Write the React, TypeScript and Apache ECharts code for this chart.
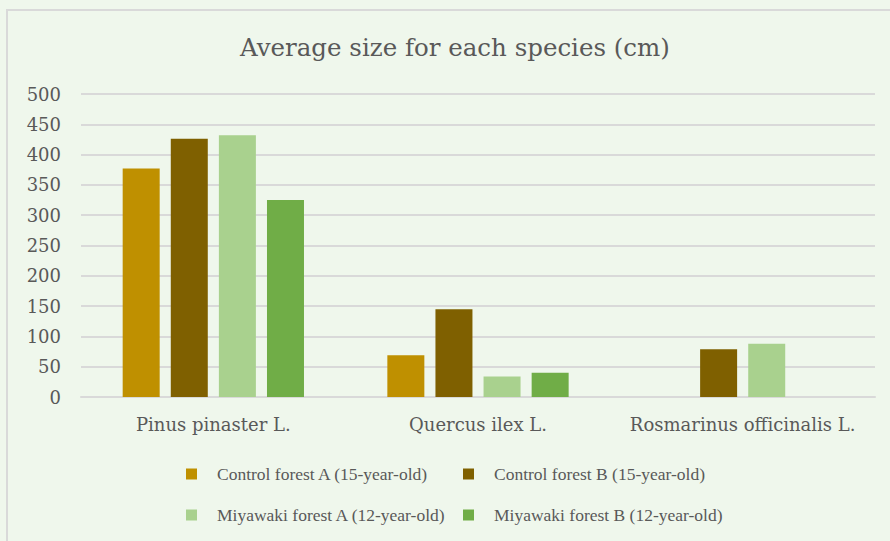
import React, { useEffect, useRef } from "react";
import * as echarts from "echarts";

const categories = ["Pinus pinaster L.", "Quercus ilex L.", "Rosmarinus officinalis L."];
const seriesNames = [
  "Control forest A (15-year-old)",
  "Control forest B (15-year-old)",
  "Miyawaki forest A (12-year-old)",
  "Miyawaki forest B (12-year-old)",
];
const controlA: (number | null)[] = [377, 69, null];
const controlB: (number | null)[] = [426, 145, 79];
const miyawakiA: (number | null)[] = [432, 34, 88];
const miyawakiB: (number | null)[] = [325, 40, null];
const seriesColors = ["#BF9000", "#7F6000", "#A9D18E", "#70AD47"];
const yTicks = { min: 0, max: 500, interval: 50 };

export default function App() {
  const ref = useRef<HTMLDivElement>(null);
  useEffect(() => {
    document.body.style.margin = "0";
    if (!ref.current) return;
    const chart = echarts.init(ref.current, undefined, { renderer: "svg" });
    const values = [controlA, controlB, miyawakiA, miyawakiB];
    const legendPos = [
      { left: 186, top: 465 },
      { left: 463, top: 465 },
      { left: 186, top: 506 },
      { left: 463, top: 506 },
    ];
    chart.setOption({
      animation: false,
      backgroundColor: "#EFF7EC",
      title: {
        text: "Average size for each species (cm)",
        left: 235,
        top: 30,
        textStyle: { fontFamily: "DejaVu Serif", fontSize: 24.5, fontWeight: "normal", color: "#595959" },
      },
      graphic: [
        {
          type: "rect",
          shape: { x: 7, y: 10, width: 920, height: 600 },
          style: { fill: "none", stroke: "#D9D9D9", lineWidth: 2 },
          silent: true,
        },
      ],
      legend: legendPos.map((p, i) => ({
        data: [seriesNames[i]],
        left: p.left,
        top: p.top,
        padding: 0,
        itemWidth: 11,
        itemHeight: 11,
        icon: "rect",
        textStyle: {
          fontFamily: "Liberation Serif",
          fontSize: 17.5,
          color: "#595959",
          padding: [0, 0, 0, 15],
        },
      })),
      grid: { left: 81, right: 15, top: 94, bottom: 144, containLabel: false },
      xAxis: {
        type: "category",
        data: categories,
        axisLine: { show: true, lineStyle: { color: "#D9D9D9", width: 2 } },
        axisTick: { show: false },
        axisLabel: { interval: 0, hideOverlap: false, fontFamily: "DejaVu Serif", fontSize: 18, color: "#595959", margin: 18 },
      },
      yAxis: {
        type: "value",
        min: yTicks.min,
        max: yTicks.max,
        interval: yTicks.interval,
        axisLine: { show: false },
        axisTick: { show: false },
        splitLine: { lineStyle: { color: "#D9D9D9", width: 2 } },
        axisLabel: { fontFamily: "DejaVu Serif", fontSize: 18, color: "#595959", margin: 20 },
      },
      series: values.map((v, i) => ({
        name: seriesNames[i],
        type: "bar",
        data: v,
        barWidth: 37,
        barGap: "30%",
        itemStyle: { color: seriesColors[i] },
      })),
    });
    return () => chart.dispose();
  }, []);
  return <div ref={ref} style={{ width: 890, height: 541 }} />;
}
